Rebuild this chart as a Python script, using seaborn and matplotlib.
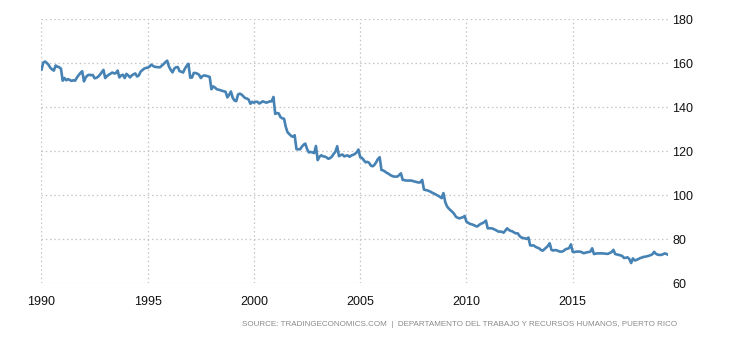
import numpy as np
import pandas as pd
import matplotlib
matplotlib.use("Agg")
import matplotlib.pyplot as plt
import seaborn as sns

# Monthly values, Jan..Dec for each year (last year partial)
v1990 = [157.0, 160.3, 160.8, 160.2, 159.3, 158.0, 157.2, 156.7, 159.0, 158.5, 158.2, 157.6]
v1991 = [152.1, 153.3, 152.3, 152.8, 152.4, 152.0, 152.3, 152.1, 153.5, 154.6, 155.6, 156.4]
v1992 = [151.8, 153.6, 154.5, 154.8, 154.6, 154.7, 153.2, 153.4, 153.9, 154.8, 155.9, 157.0]
v1993 = [153.3, 154.2, 154.8, 155.3, 155.8, 155.4, 155.5, 156.7, 153.6, 154.5, 154.8, 153.3]
v1994 = [155.2, 154.5, 153.6, 154.5, 155.0, 155.4, 154.0, 154.5, 156.2, 156.9, 157.6, 157.9]
v1995 = [158.0, 158.5, 159.4, 158.8, 158.4, 158.3, 158.2, 158.2, 159.0, 159.7, 160.5, 161.2]
v1996 = [158.5, 157.0, 155.9, 157.6, 158.2, 158.3, 156.4, 156.2, 155.8, 157.6, 158.8, 159.8]
v1997 = [153.5, 153.5, 155.6, 155.6, 155.3, 154.8, 153.3, 154.2, 154.5, 154.3, 154.1, 153.8]
v1998 = [148.2, 149.5, 149.0, 148.2, 148.0, 147.8, 147.5, 147.3, 147.0, 144.5, 145.7, 147.2]
v1999 = [144.3, 143.1, 142.8, 145.8, 146.2, 145.8, 145.0, 144.2, 144.0, 143.5, 141.6, 142.5]
v2000 = [142.1, 142.5, 142.5, 141.7, 142.2, 142.7, 142.4, 142.1, 142.4, 142.7, 142.7, 144.7]
v2001 = [137.0, 137.4, 137.2, 135.5, 135.0, 134.8, 131.0, 128.6, 127.8, 127.0, 126.6, 127.3]
v2002 = [121.0, 120.9, 120.9, 122.0, 123.0, 123.5, 121.0, 119.5, 119.7, 119.5, 119.2, 122.4]
v2003 = [116.0, 117.5, 118.2, 117.7, 117.6, 117.2, 116.6, 116.9, 117.6, 118.8, 119.8, 122.3]
v2004 = [117.8, 118.3, 118.5, 117.7, 118.0, 118.1, 117.5, 118.1, 118.4, 118.8, 119.5, 120.8]
v2005 = [117.3, 117.0, 116.0, 115.0, 115.2, 114.8, 113.5, 113.2, 113.8, 115.0, 116.5, 117.3]
v2006 = [111.5, 111.3, 110.8, 110.2, 109.8, 109.2, 108.8, 108.5, 108.5, 108.5, 109.2, 110.0]
v2007 = [107.0, 106.9, 106.7, 106.7, 106.7, 106.7, 106.4, 106.2, 106.0, 105.8, 105.9, 107.0]
v2008 = [102.6, 102.4, 102.2, 101.9, 101.5, 101.0, 100.7, 100.2, 99.8, 99.3, 98.7, 101.0]
v2009 = [97.0, 95.0, 94.0, 93.2, 92.5, 91.6, 90.3, 89.8, 89.5, 89.8, 90.0, 90.6]
v2010 = [88.0, 87.5, 87.0, 86.8, 86.5, 86.1, 85.8, 86.4, 87.0, 87.3, 87.8, 88.5]
v2011 = [85.0, 85.0, 85.0, 84.8, 84.4, 84.0, 83.5, 83.5, 83.4, 83.0, 84.0, 85.0]
v2012 = [84.2, 83.8, 83.6, 83.0, 82.7, 82.7, 81.5, 80.8, 80.6, 80.4, 80.2, 80.8]
v2013 = [77.2, 77.2, 77.2, 76.6, 76.2, 75.9, 75.2, 74.8, 75.5, 76.2, 77.0, 78.2]
v2014 = [75.2, 74.9, 75.1, 75.0, 74.6, 74.4, 74.4, 74.8, 75.5, 75.7, 76.0, 77.7]
v2015 = [74.3, 74.2, 74.4, 74.4, 74.4, 74.2, 73.7, 73.8, 74.1, 74.2, 74.4, 75.9]
v2016 = [73.3, 73.5, 73.6, 73.6, 73.6, 73.6, 73.5, 73.4, 73.4, 73.8, 74.2, 75.2]
v2017 = [73.3, 73.1, 72.9, 72.7, 72.4, 71.5, 71.6, 71.8, 71.0, 69.2, 71.3, 70.4]
v2018 = [70.6, 71.0, 71.4, 71.7, 72.0, 72.1, 72.3, 72.5, 72.8, 73.2, 74.3, 73.4]
v2019 = [73.0, 72.9, 72.9, 73.2, 73.6, 73.3, 72.9]

yearly = [v1990, v1991, v1992, v1993, v1994, v1995, v1996, v1997, v1998, v1999,
          v2000, v2001, v2002, v2003, v2004, v2005, v2006, v2007, v2008, v2009,
          v2010, v2011, v2012, v2013, v2014, v2015, v2016, v2017, v2018, v2019]
first_year = 1990

x_ticks = [1990, 1995, 2000, 2005, 2010, 2015]
y_ticks = [60, 80, 100, 120, 140, 160, 180]
source_text = "SOURCE: TRADINGECONOMICS.COM  |  DEPARTAMENTO DEL TRABAJO Y RECURSOS HUMANOS, PUERTO RICO"

t, v = [], []
for i, vals in enumerate(yearly):
    for m, val in enumerate(vals):
        t.append(first_year + i + m / 12.0)
        v.append(val)
df = pd.DataFrame({"t": t, "value": v})

sns.set_theme(style="white")
plt.rcParams['font.family'] = ['Liberation Sans', 'DejaVu Sans']

fig = plt.figure(figsize=(7.3, 3.4), dpi=100)
ax = fig.add_axes([0.0568, 0.1668, 0.9155 - 0.0568, 0.9432 - 0.1668])

sns.lineplot(data=df, x="t", y="value", ax=ax, color="#4682B4", linewidth=1.9)

ax.set_xlim(t[0], t[-1])
ax.set_ylim(60, 180)
ax.set_xticks(x_ticks)
ax.set_xticklabels([str(x) for x in x_ticks])
ax.set_yticks(y_ticks)
ax.yaxis.tick_right()
ax.tick_params(axis="both", length=0, labelsize=9, colors="#111111")
ax.tick_params(axis="x", pad=9)
ax.tick_params(axis="y", pad=3)
ax.grid(True, color="#c4c4c4", linestyle=(0, (1.2, 2.2)), linewidth=0.9)
for s in ax.spines.values():
    s.set_visible(False)
ax.set_xlabel("")
ax.set_ylabel("")

fig.text(0.927, 1 - 325 / 340, source_text, ha="right", va="center",
         fontsize=5.75, color="#8a8a8a")

fig.savefig("out.png", dpi=100)
